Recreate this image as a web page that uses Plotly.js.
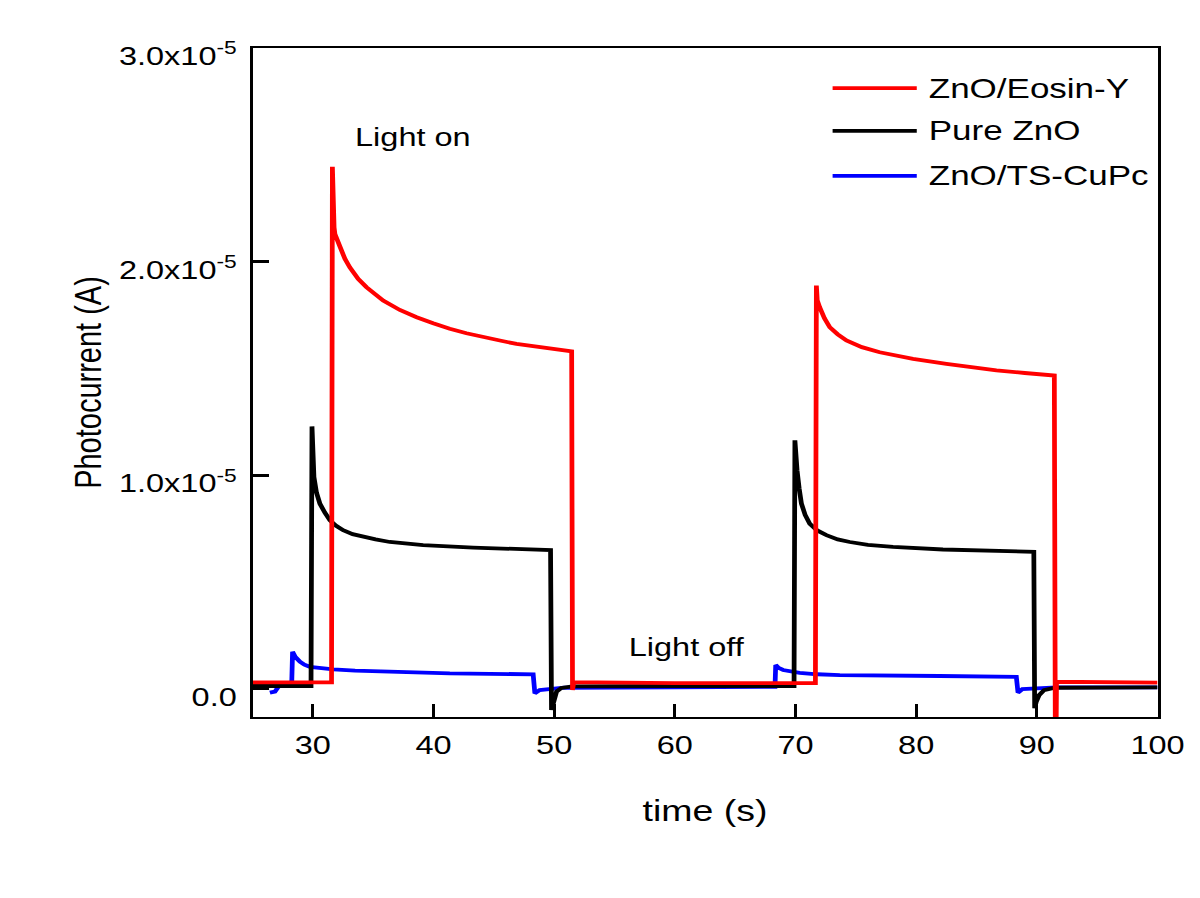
<!DOCTYPE html>
<html><head><meta charset="utf-8">
<script src="https://cdn.plot.ly/plotly-3.0.1.min.js"></script>
<style>
html,body{margin:0;padding:0;background:#fff;overflow:hidden;width:1200px;height:898px}
#chart{width:960px;height:898px;transform:scaleX(1.25);transform-origin:0 0}
</style>
</head><body><div id="chart"></div>
<script>
// Photocurrent (A) vs time (s)
const seriesNames = ['ZnO/Eosin-Y', 'Pure ZnO', 'ZnO/TS-CuPc'];
const seriesColors = ['#ff0000', '#000000', '#0000ff'];

const eosinTime = [25, 31.55, 31.62, 31.66, 31.69, 31.76, 31.83, 32.24, 32.66, 33.07, 33.76, 34.45, 35.83, 37.21, 38.6, 39.97, 41.35, 42.73, 44.11, 45.5, 46.88, 48.26, 49.6, 51.45, 51.52, 51.62, 60, 71.65, 71.73, 71.8, 72.0, 72.4, 72.84, 73.5, 74.22, 75.5, 76.98, 78.3, 79.74, 82.51, 84.6, 86.65, 89.0, 91.45, 91.55, 91.63, 100];
const eosinCurrent = [3.1e-7, 3.1e-7, 2.444e-5, 2.30e-5, 2.207e-5, 2.16e-5, 2.129e-5, 2.067e-5, 2.013e-5, 1.973e-5, 1.919e-5, 1.880e-5, 1.818e-5, 1.774e-5, 1.740e-5, 1.712e-5, 1.686e-5, 1.665e-5, 1.646e-5, 1.631e-5, 1.615e-5, 1.604e-5, 1.594e-5, 1.580e-5, -5e-8, 3.2e-7, 2.8e-7, 2.8e-7, 1.888e-5, 1.82e-5, 1.787e-5, 1.735e-5, 1.693e-5, 1.66e-5, 1.631e-5, 1.60e-5, 1.576e-5, 1.56e-5, 1.545e-5, 1.522e-5, 1.506e-5, 1.491e-5, 1.479e-5, 1.467e-5, -6.0e-6, 3.4e-7, 3.0e-7];

const pureTime = [25, 29.85, 29.93, 30.0, 30.09, 30.3, 30.58, 31.0, 31.41, 31.9, 32.51, 33.3, 34.17, 35.2, 36.38, 39.14, 43.29, 46.5, 49.7, 49.78, 49.9, 50.2, 50.6, 51.5, 60, 69.88, 69.95, 70.03, 70.13, 70.3, 70.49, 70.8, 71.18, 71.8, 72.56, 73.5, 74.5, 76.0, 78.08, 82.22, 86, 89.75, 89.82, 89.95, 90.2, 90.6, 91.5, 100];
const pureCurrent = [1.4e-7, 1.4e-7, 1.229e-5, 1.10e-5, 9.92e-6, 9.2e-6, 8.68e-6, 8.25e-6, 7.90e-6, 7.65e-6, 7.43e-6, 7.25e-6, 7.12e-6, 7.0e-6, 6.88e-6, 6.73e-6, 6.62e-6, 6.56e-6, 6.50e-6, -9.8e-7, -7.0e-7, -1.2e-7, 5e-8, 1.2e-7, 1.4e-7, 1.4e-7, 1.164e-5, 1.08e-5, 1.023e-5, 9.4e-6, 8.68e-6, 8.15e-6, 7.74e-6, 7.42e-6, 7.20e-6, 7.0e-6, 6.88e-6, 6.75e-6, 6.65e-6, 6.53e-6, 6.47e-6, 6.42e-6, -9.0e-7, -6.0e-7, -2.8e-7, -5e-8, 6e-8, 8e-8];

const cupcTime = [26.44, 26.86, 27.2, 28.25, 28.32, 28.55, 28.93, 29.3, 29.76, 30.6, 31.69, 33.5, 35.83, 41.35, 48.26, 48.4, 48.8, 50.8, 60, 68.3, 68.36, 68.6, 68.97, 69.6, 70.35, 71.8, 73.67, 81.95, 88.3, 88.44, 88.8, 91.62, 100];
const cupcCurrent = [-1.7e-7, -1.2e-7, 1.5e-7, 2.5e-7, 1.74e-6, 1.50e-6, 1.28e-6, 1.14e-6, 1.04e-6, 9.7e-7, 9.2e-7, 8.6e-7, 8.1e-7, 7.3e-7, 6.9e-7, -2.0e-7, -5e-8, 6e-8, 8e-8, 1.0e-7, 1.12e-6, 9.9e-7, 8.9e-7, 8.2e-7, 7.6e-7, 6.9e-7, 6.5e-7, 6.1e-7, 5.7e-7, -1.7e-7, -1e-8, 8e-8, 8e-8];

const xTickVals = [30, 40, 50, 60, 70, 80, 90, 100];
const yTickVals = [0, 1e-5, 2e-5, 3e-5];
const yTickText = ['0.0', '1.0x10<sup>-5</sup>', '2.0x10<sup>-5</sup>', '3.0x10<sup>-5</sup>'];

const xs = [eosinTime, pureTime, cupcTime];
const ys = [eosinCurrent, pureCurrent, cupcCurrent];
const drawOrder = [2, 1, 0];
const traces = drawOrder.map(i => ({
  type: 'scatter', mode: 'lines', name: seriesNames[i],
  x: xs[i], y: ys[i],
  line: {color: seriesColors[i], width: 3.8, shape: 'linear'},
  showlegend: false
}));

const FONT = 'Liberation Sans, Arial, Helvetica, sans-serif';
const legendY = [0.940, 0.876, 0.809];
const shapes = seriesNames.map((n, i) => ({
  type: 'line', xref: 'paper', yref: 'paper',
  x0: 0.641, x1: 0.734, y0: legendY[i], y1: legendY[i],
  line: {color: seriesColors[i], width: 3.8}
}));
const annotations = seriesNames.map((n, i) => ({
  xref: 'paper', yref: 'paper', x: 0.744, y: legendY[i],
  xanchor: 'left', yanchor: 'middle', text: n, showarrow: false,
  font: {family: FONT, size: 28, color: '#000'}
}));
annotations.push({xref: 'paper', yref: 'paper', x: 0.177, y: 0.867, text: 'Light on',
  showarrow: false, xanchor: 'center', yanchor: 'middle', font: {family: FONT, size: 26, color: '#000'}});
annotations.push({xref: 'paper', yref: 'paper', x: 0.480, y: 0.105, text: 'Light off',
  showarrow: false, xanchor: 'center', yanchor: 'middle', font: {family: FONT, size: 26, color: '#000'}});

const axisCommon = {
  ticks: 'inside', ticklen: 13, tickwidth: 2.4, tickcolor: '#000',
  showline: true, linewidth: 2.4, linecolor: '#000', mirror: true,
  showgrid: false, zeroline: false, automargin: false,
  tickfont: {family: FONT, size: 26, color: '#000'}
};

const layout = {
  width: 960, height: 898,
  margin: {l: 202, r: 33.6, t: 48, b: 181, pad: 0},
  paper_bgcolor: '#fff', plot_bgcolor: '#fff',
  font: {family: FONT, size: 26, color: '#000'},
  showlegend: false,
  xaxis: Object.assign({}, axisCommon, {
    range: [25, 100], tickmode: 'array', tickvals: xTickVals,
    ticklabelstandoff: 3,
    title: {text: 'time (s)', font: {family: FONT, size: 30, color: '#000'}, standoff: 42}
  }),
  yaxis: Object.assign({}, axisCommon, {
    range: [-1.31e-6, 3.0e-5], tickmode: 'array', tickvals: yTickVals, ticktext: yTickText,
    ticklabelstandoff: 5, ticklabelshift: 8,
    title: {text: 'Photocurrent (A)', font: {family: FONT, size: 29, color: '#000'}, standoff: 5}
  }),
  shapes: shapes,
  annotations: annotations
};

Plotly.newPlot('chart', traces, layout, {displayModeBar: false, staticPlot: true});
</script></body></html>
